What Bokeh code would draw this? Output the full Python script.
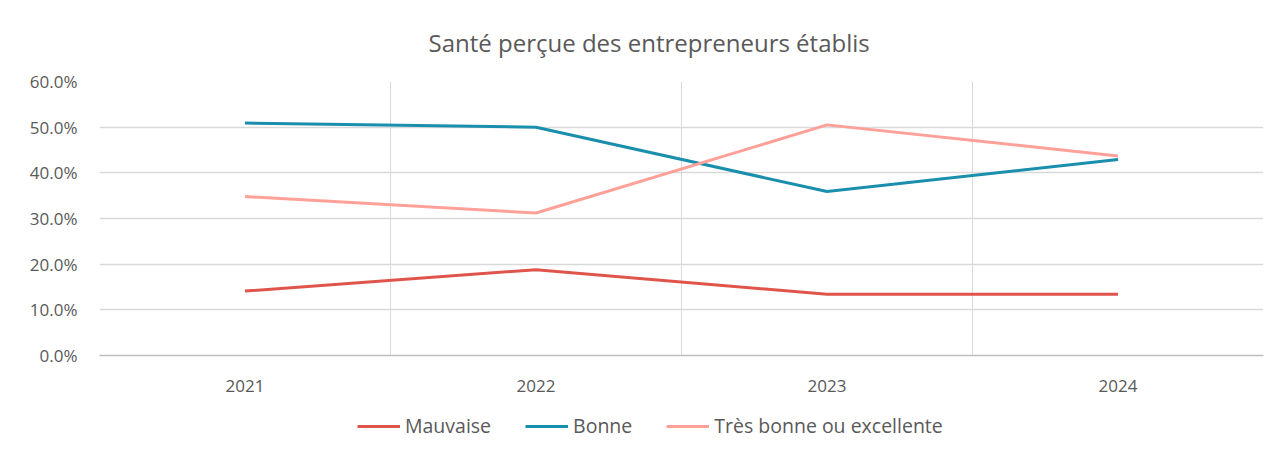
from bokeh.plotting import figure
from bokeh.models import (ColumnDataSource, FixedTicker, Legend, LegendItem,
                          NumeralTickFormatter, Range1d, Title)
from bokeh.layouts import column
from bokeh.embed import file_html
from bokeh.resources import INLINE

years = ["2021", "2022", "2023", "2024"]
mauvaise = [0.141, 0.188, 0.134, 0.134]
bonne = [0.509, 0.500, 0.359, 0.429]
tres_bonne = [0.348, 0.312, 0.505, 0.437]
series_names = ["Mauvaise", "Bonne", "Très bonne ou excellente"]
colors = ["#E0554B", "#1A8FAD", "#FFA199"]
y_ticks = [0.0, 0.1, 0.2, 0.3, 0.4, 0.5, 0.6]

FONT = "Open Sans"
TXT = "#595959"

xs = [i + 0.5 for i in range(len(years))]

p = figure(width=1272, height=400, output_backend="svg", toolbar_location=None,
           x_range=Range1d(0, len(years)), y_range=Range1d(0, 0.6),
           min_border_left=99, min_border_right=9, min_border_top=79,
           min_border_bottom=45)
p.outline_line_color = None
p.background_fill_color = "white"
p.border_fill_color = "white"

p.title = Title(text="Santé perçue des entrepreneurs établis", align="left",
                text_font=FONT, text_font_size="24px", text_font_style="normal",
                text_color=TXT, offset=329, standoff=46)

# axes
p.xaxis.ticker = FixedTicker(ticks=xs)
p.xaxis.major_label_overrides = {x: y for x, y in zip(xs, years)}
p.xaxis.major_tick_line_color = None
p.xaxis.minor_tick_line_color = None
p.xaxis.axis_line_color = "#BFBFBF"
p.xaxis.axis_line_width = 1.5
p.xaxis.major_label_standoff = 18
p.xaxis.major_label_text_font = FONT
p.xaxis.major_label_text_font_size = "17px"
p.xaxis.major_label_text_color = TXT

p.yaxis.ticker = FixedTicker(ticks=y_ticks)
p.yaxis.formatter = NumeralTickFormatter(format="0.0%")
p.yaxis.major_tick_line_color = None
p.yaxis.minor_tick_line_color = None
p.yaxis.axis_line_color = None
p.yaxis.major_label_standoff = 16
p.yaxis.major_label_text_font = FONT
p.yaxis.major_label_text_font_size = "17px"
p.yaxis.major_label_text_color = TXT

p.xgrid.ticker = FixedTicker(ticks=list(range(len(years) + 1)))
p.xgrid.grid_line_color = "#D9D9D9"
p.ygrid.grid_line_color = "#D9D9D9"
p.ygrid.grid_line_width = 1.3

src = ColumnDataSource(dict(x=xs, m=mauvaise, b=bonne, t=tres_bonne))
p.line("x", "m", source=src, line_color=colors[0], line_width=3)
p.line("x", "b", source=src, line_color=colors[1], line_width=3)
p.line("x", "t", source=src, line_color=colors[2], line_width=3)

# legend strip below the chart
lg = figure(width=1272, height=41, output_backend="svg", toolbar_location=None,
            x_range=Range1d(0, 1), y_range=Range1d(0, 1),
            min_border=0)
lg.axis.visible = False
lg.grid.visible = False
lg.outline_line_color = None
lg.border_fill_color = "white"
nan = float("nan")
lr = [lg.line(x=[nan, nan], y=[nan, nan], line_color=c, line_width=3)
      for c in colors]
legend = Legend(items=[LegendItem(label=n, renderers=[r])
                       for n, r in zip(series_names, lr)],
                orientation="horizontal", location=(258, 2),
                label_text_font=FONT, label_text_font_size="19.5px",
                label_text_color=TXT, glyph_width=43, label_standoff=5,
                spacing=34, border_line_color=None, background_fill_alpha=0,
                margin=0, padding=0)
lg.add_layout(legend, "center")

layout = column(p, lg, spacing=0)
open("out.html", "w").write(file_html(layout, INLINE))
